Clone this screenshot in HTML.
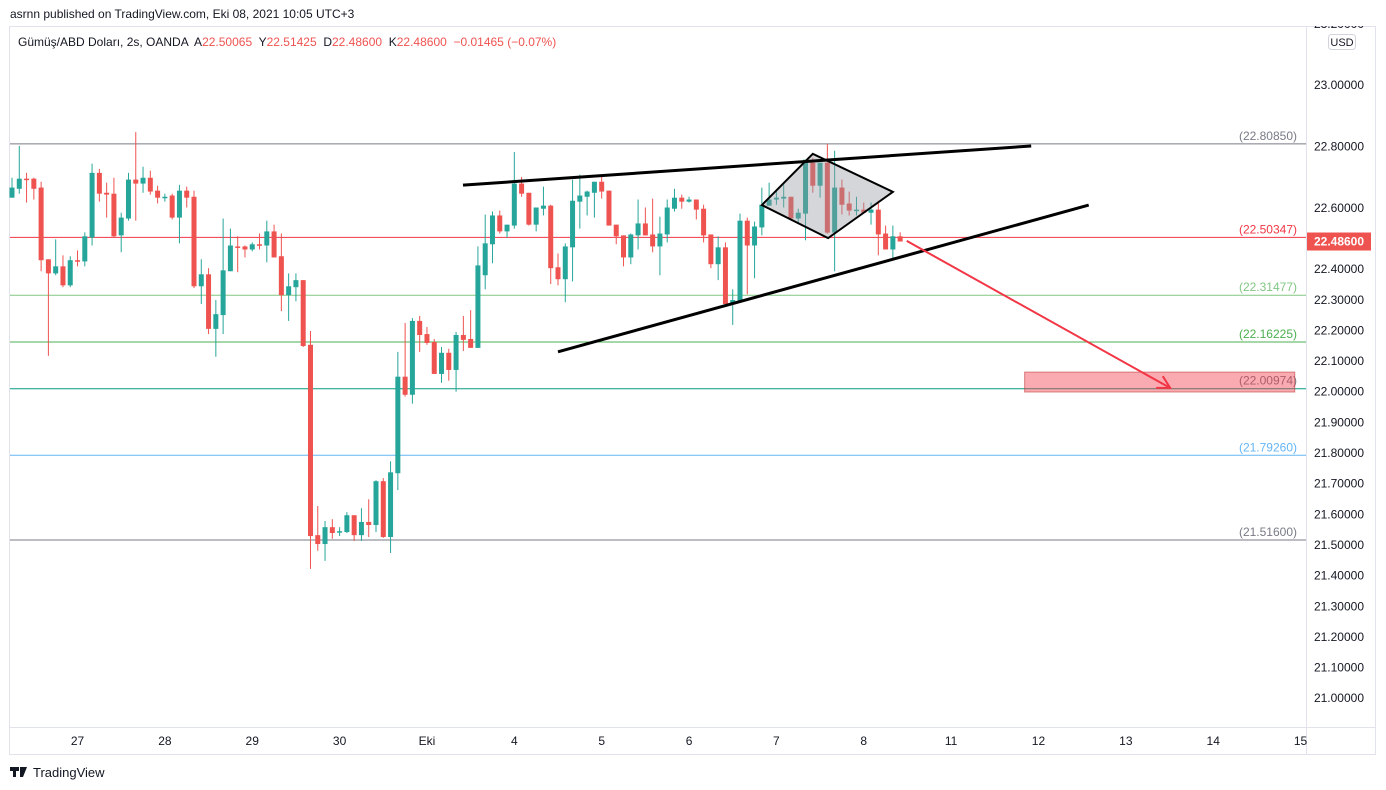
<!DOCTYPE html>
<html><head><meta charset="utf-8">
<style>
html,body{margin:0;padding:0;background:#fff;width:1386px;height:790px;overflow:hidden;font-family:"Liberation Sans",sans-serif;}
svg text{font-family:"Liberation Sans",sans-serif;}
</style></head>
<body>
<svg id="chart" width="1386" height="790" xmlns="http://www.w3.org/2000/svg">
<text x="10" y="18" font-size="12" fill="#131722">asrnn published on TradingView.com, Eki 08, 2021 10:05 UTC+3</text>
<rect x="9.5" y="26.5" width="1366" height="728" fill="#fff" stroke="#e0e3eb"/>
<line x1="1306.5" y1="26" x2="1306.5" y2="754" stroke="#e0e3eb"/>
<line x1="10" y1="727.5" x2="1376" y2="727.5" stroke="#e0e3eb"/>
<g id="levels"></g>
<g id="candles"></g>
<g id="drawings"></g>
<g id="yaxis"></g>
<g id="xaxis"></g>
<rect x="1307" y="0" width="79" height="26" fill="#fff"/>
<text x="18" y="46" font-size="12" fill="#131722" style="white-space:pre">Gümüş/ABD Doları, 2s, OANDA  A<tspan fill="#ef5350">22.50065</tspan>  Y<tspan fill="#ef5350">22.51425</tspan>  D<tspan fill="#ef5350">22.48600</tspan>  K<tspan fill="#ef5350">22.48600</tspan>  <tspan fill="#ef5350">−0.01465 (−0.07%)</tspan></text>
<rect x="1328.5" y="34.5" width="27" height="15" rx="3" fill="#fff" stroke="#d1d4dc"/>
<text x="1342" y="46" font-size="11" fill="#131722" text-anchor="middle">USD</text>
<g>
<rect x="10" y="767" width="9" height="4" fill="#131722"/><rect x="13" y="767" width="3" height="10" fill="#131722"/>
<path d="M20 767 L27 767 L23 777 L20 777 Z" fill="#131722"/>
<text x="33" y="777" font-size="13" fill="#131722">TradingView</text>
</g>
</svg>
<script>
const opens=[22.633,22.662,22.695,22.695,22.666,22.432,22.386,22.409,22.347,22.429,22.425,22.503,22.714,22.649,22.646,22.510,22.565,22.692,22.679,22.698,22.656,22.633,22.640,22.568,22.656,22.636,22.344,22.383,22.205,22.250,22.393,22.474,22.474,22.464,22.481,22.477,22.523,22.442,22.315,22.341,22.364,22.153,21.532,21.503,21.558,21.542,21.542,21.597,21.532,21.575,21.565,21.708,21.526,21.734,22.049,21.990,22.231,22.188,22.162,22.058,22.127,22.071,22.185,22.172,22.143,22.380,22.481,22.575,22.523,22.542,22.679,22.649,22.545,22.597,22.607,22.406,22.367,22.471,22.620,22.636,22.649,22.685,22.656,22.545,22.510,22.438,22.510,22.549,22.513,22.474,22.513,22.597,22.633,22.620,22.627,22.597,22.513,22.416,22.471,22.289,22.292,22.558,22.477,22.536,22.607,22.627,22.630,22.636,22.565,22.581,22.747,22.672,22.747,22.519,22.666,22.614,22.591,22.594,22.584,22.594,22.516,22.464,22.507];
const closes=[22.666,22.695,22.692,22.662,22.429,22.386,22.409,22.347,22.429,22.425,22.507,22.714,22.646,22.643,22.507,22.568,22.692,22.679,22.698,22.653,22.633,22.636,22.568,22.656,22.633,22.344,22.383,22.205,22.253,22.396,22.477,22.471,22.464,22.481,22.477,22.523,22.438,22.315,22.344,22.364,22.149,21.529,21.503,21.558,21.539,21.545,21.597,21.532,21.575,21.565,21.708,21.526,21.737,22.049,21.990,22.231,22.185,22.159,22.058,22.127,22.071,22.185,22.169,22.143,22.412,22.484,22.575,22.523,22.545,22.679,22.646,22.545,22.601,22.607,22.403,22.367,22.474,22.623,22.640,22.653,22.685,22.653,22.542,22.507,22.438,22.513,22.549,22.510,22.474,22.516,22.601,22.633,22.620,22.627,22.594,22.510,22.416,22.471,22.286,22.299,22.558,22.477,22.539,22.610,22.627,22.633,22.636,22.565,22.584,22.757,22.672,22.747,22.519,22.666,22.610,22.591,22.594,22.584,22.594,22.513,22.464,22.507,22.490];
const highs=[22.698,22.802,22.714,22.698,22.685,22.432,22.497,22.445,22.442,22.461,22.520,22.744,22.727,22.682,22.698,22.584,22.714,22.847,22.734,22.721,22.672,22.646,22.646,22.675,22.669,22.656,22.432,22.403,22.299,22.565,22.532,22.507,22.477,22.487,22.516,22.558,22.545,22.516,22.386,22.386,22.364,22.198,21.627,21.578,21.584,21.558,21.607,21.597,21.620,21.649,21.711,21.718,21.773,22.130,22.224,22.240,22.247,22.211,22.172,22.146,22.140,22.195,22.247,22.266,22.474,22.578,22.588,22.591,22.545,22.782,22.701,22.649,22.601,22.669,22.610,22.451,22.484,22.692,22.708,22.656,22.685,22.708,22.656,22.545,22.510,22.516,22.627,22.601,22.630,22.571,22.627,22.662,22.643,22.636,22.627,22.610,22.513,22.507,22.487,22.334,22.581,22.568,22.555,22.666,22.682,22.656,22.675,22.636,22.597,22.757,22.763,22.747,22.808,22.786,22.692,22.653,22.636,22.617,22.617,22.623,22.542,22.542,22.520];
const lows=[22.633,22.646,22.617,22.627,22.393,22.117,22.380,22.341,22.341,22.409,22.409,22.477,22.620,22.568,22.503,22.455,22.558,22.558,22.649,22.643,22.614,22.620,22.562,22.484,22.601,22.338,22.286,22.188,22.114,22.188,22.393,22.390,22.438,22.458,22.464,22.422,22.438,22.263,22.231,22.295,22.146,21.422,21.481,21.448,21.520,21.529,21.539,21.513,21.513,21.526,21.542,21.523,21.474,21.679,21.984,21.961,22.130,22.153,22.058,22.029,22.036,22.000,22.133,22.143,22.143,22.334,22.419,22.516,22.503,22.532,22.636,22.542,22.523,22.575,22.351,22.347,22.292,22.360,22.532,22.575,22.568,22.630,22.542,22.481,22.409,22.416,22.464,22.510,22.455,22.380,22.487,22.588,22.597,22.617,22.562,22.487,22.403,22.364,22.286,22.218,22.292,22.318,22.370,22.510,22.607,22.610,22.601,22.565,22.549,22.494,22.649,22.633,22.516,22.393,22.578,22.575,22.575,22.581,22.545,22.445,22.464,22.432,22.490];
const yTicks=[23.2,23.0,22.8,22.6,22.4,22.3,22.2,22.1,22.0,21.9,21.8,21.7,21.6,21.5,21.4,21.3,21.2,21.1,21.0];
const xLabels=["27","28","29","30","Eki","4","5","6","7","8","11","12","13","14","15"];
const xLabelBars=[9,21,33,45,57,69,81,93,105,117,129,141,153,165,177];
const levelPrices=[22.80850,22.50347,22.31477,22.16225,22.00974,21.79260,21.51600];
const levelColors=["#787b86","#f23645","#81c784","#4caf50","#089981","#64b5f6","#787b86"];

const NS="http://www.w3.org/2000/svg";
function X(i){return 12+i*7.28;}
function Y(p){return 146.5+(22.8-p)*306.5;}
function mk(parent,tag,attrs){const e=document.createElementNS(NS,tag);for(const k in attrs)e.setAttribute(k,attrs[k]);document.getElementById(parent).appendChild(e);return e;}

levelPrices.forEach((p,i)=>{
  const l=mk('levels','line',{x1:10,x2:1306,y1:Y(p),y2:Y(p),stroke:levelColors[i],'stroke-width':1});
  
  
  const t=mk('levels','text',{x:1297,y:Y(p)-4,'font-size':12,'text-anchor':'end',fill:levelColors[i]==="#089981"?"#787b86":levelColors[i]});
  t.textContent='('+p.toFixed(5)+')';
  
  
});

opens.forEach((o,i)=>{
  const c=closes[i],up=c>=o,col=up?'#26a69a':'#ef5350',x=X(i);
  const w=mk('candles','line',{x1:x,x2:x,y1:Y(highs[i]),y2:Y(lows[i]),stroke:col,'stroke-width':1});
  
  
  const top=Y(Math.max(o,c)),h=Math.max(1.5,Math.abs(Y(o)-Y(c)));
  const b=mk('candles','rect',{x:x-2.5,y:top,width:5,height:h,fill:col});
  
  
});

const upperTrend=[[61.95,22.674],[140,22.8016]];
const lowerTrend=[[75,22.130],[147.9,22.609]];
const diamond=[[103,22.609],[110,22.776],[121,22.652],[112.1,22.501]];
const arrowPts=[[122.9,22.492],[159.1,22.012]];
const targetBox=[[139.1,22.064],[176.2,21.999]];
const dpts=a=>a.map(p=>X(p[0])+','+Y(p[1])).join(' ');
const bx=mk('drawings','rect',{x:X(targetBox[0][0]),y:Y(targetBox[0][1]),width:X(targetBox[1][0])-X(targetBox[0][0]),height:Y(targetBox[1][1])-Y(targetBox[0][1]),fill:'rgba(242,54,69,0.42)',stroke:'rgba(190,60,60,0.6)'});


const dm=mk('drawings','polygon',{points:dpts(diamond),fill:'rgba(150,152,160,0.4)',stroke:'#000','stroke-width':2});


const ut=mk('drawings','polyline',{points:dpts(upperTrend),stroke:'#000','stroke-width':3,fill:'none'});


const lt=mk('drawings','polyline',{points:dpts(lowerTrend),stroke:'#000','stroke-width':3,fill:'none'});


const ax1=X(arrowPts[0][0]),ay1=Y(arrowPts[0][1]),ax2=X(arrowPts[1][0]),ay2=Y(arrowPts[1][1]);
const ar=mk('drawings','line',{x1:ax1,y1:ay1,x2:ax2,y2:ay2,stroke:'#f23645','stroke-width':2});


const ang=Math.atan2(ay2-ay1,ax2-ax1);
const hd=mk('drawings','polyline',{points:(ax2-14*Math.cos(ang-0.5))+','+(ay2-14*Math.sin(ang-0.5))+' '+ax2+','+ay2+' '+(ax2-14*Math.cos(ang+0.5))+','+(ay2-14*Math.sin(ang+0.5)),stroke:'#f23645','stroke-width':2,fill:'none'});



yTicks.forEach(p=>{
  const t=mk('yaxis','text',{x:1364,y:Y(p)+4,'font-size':12,'text-anchor':'end',fill:'#131722'});
  t.textContent=p.toFixed(5);
  
  
});
const last=closes[closes.length-1];
const tag=mk('yaxis','rect',{x:1307,y:Y(last)-9,width:64,height:18,fill:'#ef5350'});


const tt=mk('yaxis','text',{x:1339,y:Y(last)+4,'font-size':12,'font-weight':'bold','text-anchor':'middle',fill:'#fff'});
tt.textContent='22.48600';



xLabels.forEach((s,i)=>{
  const t=mk('xaxis','text',{x:X(xLabelBars[i]),y:745,'font-size':12,'text-anchor':'middle',fill:'#131722'});
  t.textContent=s;
  
  
});
</script>
</body></html>
